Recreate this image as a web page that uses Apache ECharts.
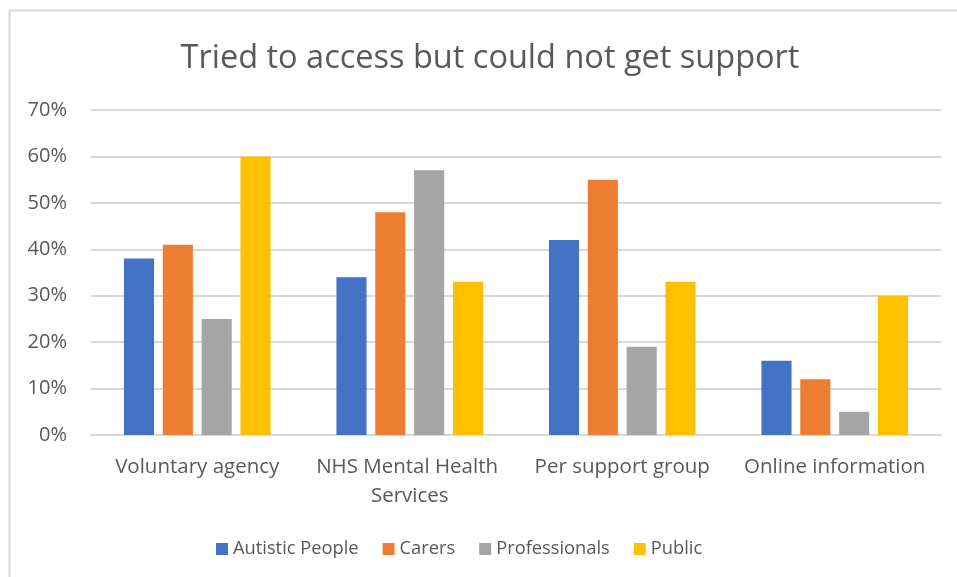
<!DOCTYPE html>
<html>
<head>
<meta charset="utf-8">
<script src="https://cdn.jsdelivr.net/npm/echarts@6/dist/echarts.min.js"></script>
<style>
html,body{margin:0;padding:0;background:#fff;}
#chart{width:957px;height:577px;}
</style>
</head>
<body>
<div id="chart"></div>
<script>
const titleText = 'Tried to access but could not get support';
const categories = ['Voluntary agency', 'NHS Mental Health Services', 'Per support group', 'Online information'];
const seriesNames = ['Autistic People', 'Carers', 'Professionals', 'Public'];
const autisticPeople = [38, 34, 42, 16];
const carers = [41, 48, 55, 12];
const professionals = [25, 57, 19, 5];
const publicVals = [60, 33, 33, 30];
const yTicks = [0, 10, 20, 30, 40, 50, 60, 70];
const colors = ['#4472C4', '#ED7D31', '#A5A5A5', '#FFC000'];

const FONT = '"Open Sans", sans-serif';
const TXT = '#595959';
const seriesData = [autisticPeople, carers, professionals, publicVals];

const chart = echarts.init(document.getElementById('chart'));
chart.setOption({
  animation: false,
  color: colors,
  textStyle: {fontFamily: FONT},
  graphic: [{
    type: 'rect',
    shape: {x: 9.5, y: 10.5, width: 1200, height: 1200},
    style: {fill: 'none', stroke: '#d9d9d9', lineWidth: 2},
    silent: true
  }],
  title: {
    text: titleText,
    left: 485,
    textAlign: 'center',
    top: 37,
    textStyle: {fontFamily: FONT, fontSize: 32.5, fontWeight: 'normal', color: TXT}
  },
  legend: {
    data: seriesNames,
    left: 211,
    top: 535,
    itemWidth: 12,
    itemHeight: 12,
    itemGap: 24,
    icon: 'rect',
    textStyle: {fontFamily: FONT, fontSize: 18.3, color: TXT}
  },
  grid: {left: 91, right: 16, top: 110, bottom: 142, containLabel: false},
  xAxis: {
    type: 'category',
    data: categories,
    axisLine: {lineStyle: {color: '#d9d9d9', width: 2}},
    axisTick: {show: false},
    axisLabel: {
      fontFamily: FONT, fontSize: 20.5, color: TXT, margin: 18,
      width: 208, overflow: 'break', lineHeight: 29, interval: 0
    }
  },
  yAxis: {
    type: 'value',
    min: yTicks[0],
    max: yTicks[yTicks.length - 1],
    interval: 10,
    axisLine: {show: false},
    axisTick: {show: false},
    splitLine: {lineStyle: {color: '#d9d9d9', width: 2}},
    axisLabel: {
      fontFamily: FONT, fontSize: 20, color: TXT, margin: 24,
      formatter: v => v + '%'
    }
  },
  series: seriesNames.map((name, i) => ({
    name: name,
    type: 'bar',
    data: seriesData[i],
    barGap: '29%',
    barCategoryGap: '31%',
    itemStyle: {color: colors[i]}
  }))
});
</script>
</body>
</html>
